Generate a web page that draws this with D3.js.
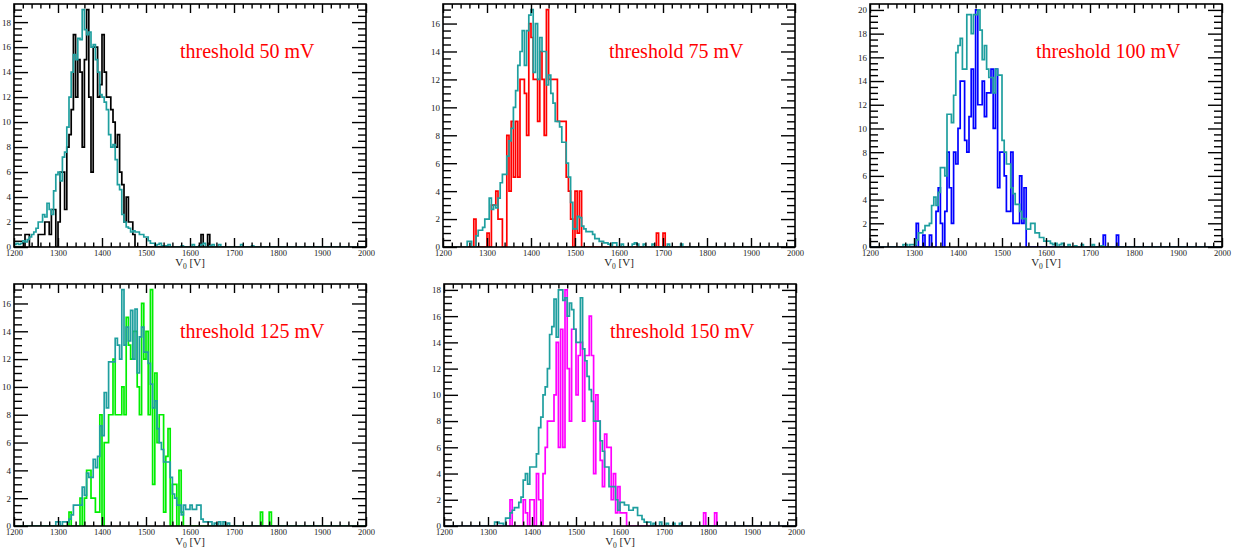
<!DOCTYPE html>
<html>
<head>
<meta charset="utf-8">
<script src="https://cdn.jsdelivr.net/npm/d3@7"></script>
<style>
  body { margin: 0; background: #fff; }
  svg { display: block; }
  .tick text { font-family: "Liberation Serif", "DejaVu Serif", serif; fill: #222; }
  .xax .tick text { font-size: 8.5px; }
  .yax .tick text { font-size: 9px; }
</style>
</head>
<body>
<svg id="chart" width="1243" height="554"></svg>
<script>
// histogram bins: 5 V wide, first bin starts at 1200 V
const binStart = 1200;
const binWidth = 5;
const nBins = 160;

// reference (teal) and per-threshold counts, index 0 = 1200-1205 V
const thr50Ref = [0.2,0.3,0.2,0.3,0.5, 0.4,0.6,0.8,1.0,1.2, 1.5,2.0,2.0,2.6,2.4, 3.5,3.0,2.6,4.5,5.8,
  6.0,5.3,7.2,7.6,9.6, 12.0,14.0,15.4,15.0,16.7, 16.6,19.0,17.4,17.0,17.2, 16.0,16.2,15.0,14.0,12.2,
  12.0,11.6,11.0,9.0,8.0, 8.2,7.0,5.0,4.6,2.6, 2.0,1.6,1.5,1.2,1.3, 1.2,1.2,1.0,1.0,0.8,
  0.8,0.5,0.3,0.3,0.1, 0.2,0.3,0.1,0,0.1, 0.2,0,0,0,0, 0,0.1,0,0,0,
  0,0.2,0,0,0.1, 0.2,0.3,0,0,0.1, 0.2,0,0,0.2,0, 0,0,0,0,0,
  0,0,0,0.2,0, 0,0,0,0.1,0];
const thr50 = [0,0,0,0,0, 1,1,0,0,0, 0,1,1,1,2, 2,1,3,3,0,
  2,6,6,3,8, 9,11,17,12,15, 14,8,15,19,12, 6,16,16,12,13,
  17,14,12,12,11, 10,8,9,6,5, 2,4,2,2,1, 0,0,0,0,0,
  0,0,0,0,0, 0,0,0,0,0, 0,0,0,0,0, 0,0,0,0,0,
  0,0,0,0,0, 1,0,0,1,0];

const thr75Ref = [0,0,0,0,0, 0,0,0,0,0, 0,0.4,0.4,0,0, 0.8,1.2,1.2,1.4,2.0,
  2.0,3.5,2.7,3.0,2.8, 3.5,4.6,5.2,5.2,6.5, 7.6,8.5,10.0,11.2,13.0, 14.0,15.5,13.0,15.5,16.6,
  17.0,12.5,16.0,12.0,15.0, 14.0,14.0,11.6,12.3,11.0, 10.3,9.0,9.0,8.6,7.5, 7.5,6.0,5.0,3.2,1.3,
  1.3,2.2,2.1,1.5,1.3, 1.1,1.1,1.1,0.9,0.6, 0.6,0.4,0.4,0.3,0.3, 0.2,0,0.3,0.3,0,
  0,0.2,0,0,0, 0,0.2,0.3,0.2,0, 0,0.2,0,0,0, 0.2,0,0,0,0,
  0,0,0.2,0,0, 0,0,0,0.2,0];
const thr75 = [0,0,0,0,0, 0,0,0,0,0, 0,0,0,0,2, 0,0,0,0,0,
  1,0,3,3,4, 2,2,0,0,8, 4,9,5,9,5, 12,12,11,8,16,
  15,12,12,9,14, 12,8,17,12,12, 12,12,9,9,9, 9,5,4,2,0,
  4,1,4,0,0, 0,0,0,0,0, 0,0,0,0,0, 0,0,0,0,0,
  0,0,0,0,0, 0,0,0,0,0, 0,0,0,0,0, 0,0,1,0,0,
  1];

const thr100Ref = [0,0,0,0,0, 0,0,0,0,0, 0,0,0,0,0, 0.2,0.2,0,0.2,0.2,
  0.2,0.6,1.2,1.2,1.4, 1.8,1.8,2.0,3.5,4.2, 3.5,4.6,6.7,6.7,6.0, 11.2,11.2,10.5,12.8,16.4,
  17.0,17.6,15.0,15.0,19.6, 19.6,18.0,19.6,19.6,20.0, 18.3,15.8,17.0,15.0,14.3, 14.3,13.0,15.0,14.5,14.5,
  9.0,8.0,7.0,7.0,5.0, 4.5,3.6,3.6,3.0,2.4, 2.4,1.5,1.5,2.0,2.0, 1.2,1.2,0.8,0.8,0.5,
  0.5,0.5,0.3,0.2,0.3, 0,0.2,0.3,0,0, 0.2,0,0,0.1,0, 0,0.2,0,0,0,
  0,0.2,0,0,0, 0.1,0,0,0,0];
const thr100 = [0,0,0,0,0, 0,0,0,0,0, 0,0,0,0,0, 0,0,0,0,0,
  0,2,0,0,1, 0,0,1,0,0, 3,5,2,0,3, 8,5,2,8,7,
  10,14,14,9,8, 11,15,10,20,12, 12,14,11,13,13, 15,10,15,5,8,
  8,6,3,3,8, 2,2,2,6,2, 5,0,0,0,0, 0,0,0,0,0,
  0,0,0,0,0, 0,0,0,0,0, 0,0,0,0,0, 0,0,0,0,0,
  0,0,0,0,0, 0,1,0,0,0, 0,0,1];

const thr125Ref = [0,0,0,0,0, 0,0,0,0,0, 0,0,0,0,0, 0,0,0,0,0.3,
  0.3,0,0.3,0.3,0.3, 0.5,0.8,1.5,1.5,1.5, 1.5,2.8,2.2,3.8,3.5, 3.5,4.8,4.2,5.0,7.2,
  6.5,9.6,8.5,11.8,11.8, 11.8,13.5,13.0,12.0,17.0, 13.0,14.3,13.3,15.5,12.0, 15.6,11.0,13.6,14.3,12.5,
  12.5,11.7,10.2,8.5,9.0, 7.0,6.0,5.5,4.6,4.6, 4.6,3.5,2.3,2.0,1.5, 1.5,0.8,1.5,1.2,1.2,
  1.5,1.2,1.2,1.5,1.5, 0.5,0.3,0.3,0.3,0.3, 0,0.2,0,0.3,0, 0.3,0,0.2,0,0];
const thr125 = [0,0,0,0,0, 0,0,0,0,0, 0,0,0,0,0, 0,0,0,0,0,
  0,0,0,0,0, 1,0,0,0,0, 2,0,2,4,4, 2,2,1,1,8,
  0,6,6,8,8, 12,8,8,8,10, 8,15,13,12,14, 14,10,8,16,12,
  14,8,17,3,11, 6,8,8,1,5, 7,0,3,3,0, 4,1,0,0,0,
  0,0,0,0,0, 0,0,0,0,0, 0,0,0,0,0, 0,0,0,0,0,
  0,0,0,0,0, 0,0,0,0,0, 0,0,1,0,0, 0,1];

const thr150Ref = [0,0,0,0,0, 0,0,0,0,0, 0,0,0,0,0, 0,0,0,0,0,
  0,0,0,0.3,0.3, 0.2,0.2,0,0.6,0.6, 1.0,1.2,1.4,1.4,1.8, 2.2,3.5,4.0,3.2,4.5,
  4.5,4.5,5.5,7.5,8.3, 10.0,10.6,12.0,14.6,15.2, 17.3,14.4,18.0,18.0,17.2, 17.4,16.0,17.0,16.5,15.0,
  14.0,14.0,17.4,13.5,12.6, 11.4,10.4,9.5,8.0,8.0, 8.0,6.5,5.7,4.5,4.5, 3.0,3.0,3.0,2.0,1.2,
  1.8,1.8,1.6,1.6,1.2, 1.2,1.4,1.4,0.8,0.8, 0.5,0.3,0.3,0.3,0, 0.2,0,0,0.3,0,
  0,0.2,0,0,0.2, 0,0,0.2,0,0];
const thr150 = [0,0,0,0,0, 0,0,0,0,0, 0,0,0,0,0, 0,0,0,0,0,
  0,0,0,0,0, 0,0,0,0,0, 2,0,0,0,0, 0,2,1,0,2,
  2,0,4,2,0, 4,6,8,8,8, 10,14,6,15,6, 18,12,8,15,15,
  10,13,14,8,13, 13,16,13,4,10, 8,5,3,7,6, 6,2,4,1,3,
  1,1,1,0,0, 0,0,0,0,0, 0,0,0,0,0, 0,0,0,0,0,
  0,0,0,0,0, 0,0,0,0,0, 0,0,0,0,0, 0,0,0,1,0, 0,0,0,1];

const labels = ['threshold 50 mV', 'threshold 75 mV', 'threshold 100 mV', 'threshold 125 mV', 'threshold 150 mV'];
const colors = ['#000000', '#ff0000', '#0000ff', '#00ee00', '#ff00ff'];
const yMaxes = [19.45, 17.4, 20.5, 17.4, 18.45];
const xTicks = [1200, 1300, 1400, 1500, 1600, 1700, 1800, 1900, 2000];

const refColor = '#1f9f9f';
const serif = '"Liberation Serif", "DejaVu Serif", serif';

const panels = [
  { ref: thr50Ref, sig: thr50, left: 14, top: 4, h: 243 },
  { ref: thr75Ref, sig: thr75, left: 443, top: 4, h: 243 },
  { ref: thr100Ref, sig: thr100, left: 870, top: 4, h: 243 },
  { ref: thr125Ref, sig: thr125, left: 14, top: 284, h: 242 },
  { ref: thr150Ref, sig: thr150, left: 444, top: 284, h: 242 }
];
const plotW = 352;

const svg = d3.select('#chart');
svg.append('rect').attr('width', 1243).attr('height', 554).attr('fill', '#fff');

function toPoints(vals) {
  const pts = [];
  for (let i = 0; i < nBins; i++) pts.push([binStart + i * binWidth, vals[i] || 0]);
  pts.push([binStart + nBins * binWidth, vals[nBins - 1] || 0]);
  return pts;
}

panels.forEach((p, k) => {
  const x = d3.scaleLinear().domain([1200, 2000]).range([0, plotW]);
  const y = d3.scaleLinear().domain([0, yMaxes[k]]).range([p.h, 0]);
  const g = svg.append('g').attr('transform', `translate(${p.left},${p.top})`);

  g.append('clipPath').attr('id', 'clip' + k)
    .append('rect').attr('x', 0).attr('y', -1).attr('width', plotW).attr('height', p.h + 1);

  const line = d3.line()
    .x(d => x(d[0]))
    .y(d => y(d[1]))
    .curve(d3.curveStepAfter);

  const hist = g.append('g').attr('clip-path', `url(#clip${k})`);
  hist.append('path')
    .attr('d', line(toPoints(p.sig)))
    .attr('fill', 'none')
    .attr('stroke', colors[k])
    .attr('stroke-width', 1.7);
  hist.append('path')
    .attr('d', line(toPoints(p.ref)))
    .attr('fill', 'none')
    .attr('stroke', refColor)
    .attr('stroke-width', 1.7);

  // ticks point inward on all four sides
  const yMaj = d3.range(0, yMaxes[k], 2);
  const yMin = d3.range(0, yMaxes[k], 0.5).filter(v => v % 2 !== 0);
  const xMin = d3.range(1200, 2001, 20).filter(v => v % 100 !== 0);

  const axes = [
    g.append('g').attr('class', 'xax').attr('transform', `translate(0,${p.h})`)
      .call(d3.axisBottom(x).tickValues(xTicks).tickSize(-9).tickPadding(2.5).tickFormat(d3.format('d'))),
    g.append('g').attr('transform', `translate(0,${p.h})`)
      .call(d3.axisBottom(x).tickValues(xMin).tickSize(-4.5).tickFormat('')),
    g.append('g')
      .call(d3.axisTop(x).tickValues(xTicks).tickSize(-9).tickFormat('')),
    g.append('g')
      .call(d3.axisTop(x).tickValues(xMin).tickSize(-4.5).tickFormat('')),
    g.append('g').attr('class', 'yax')
      .call(d3.axisLeft(y).tickValues(yMaj).tickSize(-14).tickPadding(3).tickFormat(d3.format('d'))),
    g.append('g')
      .call(d3.axisLeft(y).tickValues(yMin).tickSize(-8).tickFormat('')),
    g.append('g').attr('transform', `translate(${plotW},0)`)
      .call(d3.axisRight(y).tickValues(yMaj).tickSize(-14).tickFormat('')),
    g.append('g').attr('transform', `translate(${plotW},0)`)
      .call(d3.axisRight(y).tickValues(yMin).tickSize(-8).tickFormat(''))
  ];
  axes.forEach(a => {
    a.select('.domain').remove();
    a.selectAll('.tick line').attr('stroke', '#000').attr('stroke-width', 1.4);
  });

  g.append('rect')
    .attr('width', plotW).attr('height', p.h)
    .attr('fill', 'none').attr('stroke', '#000').attr('stroke-width', 1.6);

  const xl = g.append('text')
    .attr('x', plotW / 2).attr('y', p.h + 19)
    .attr('text-anchor', 'middle')
    .attr('font-family', serif).attr('font-size', 11).attr('fill', '#222');
  xl.append('tspan').text('V');
  xl.append('tspan').attr('font-size', 7.5).attr('dy', 2.5).text('0');
  xl.append('tspan').attr('dy', -2.5).text(' [V]');

  g.append('text')
    .attr('x', 166).attr('y', 54)
    .attr('font-family', serif).attr('font-size', 20).attr('fill', '#ff0000')
    .text(labels[k]);
});
</script>
</body>
</html>
